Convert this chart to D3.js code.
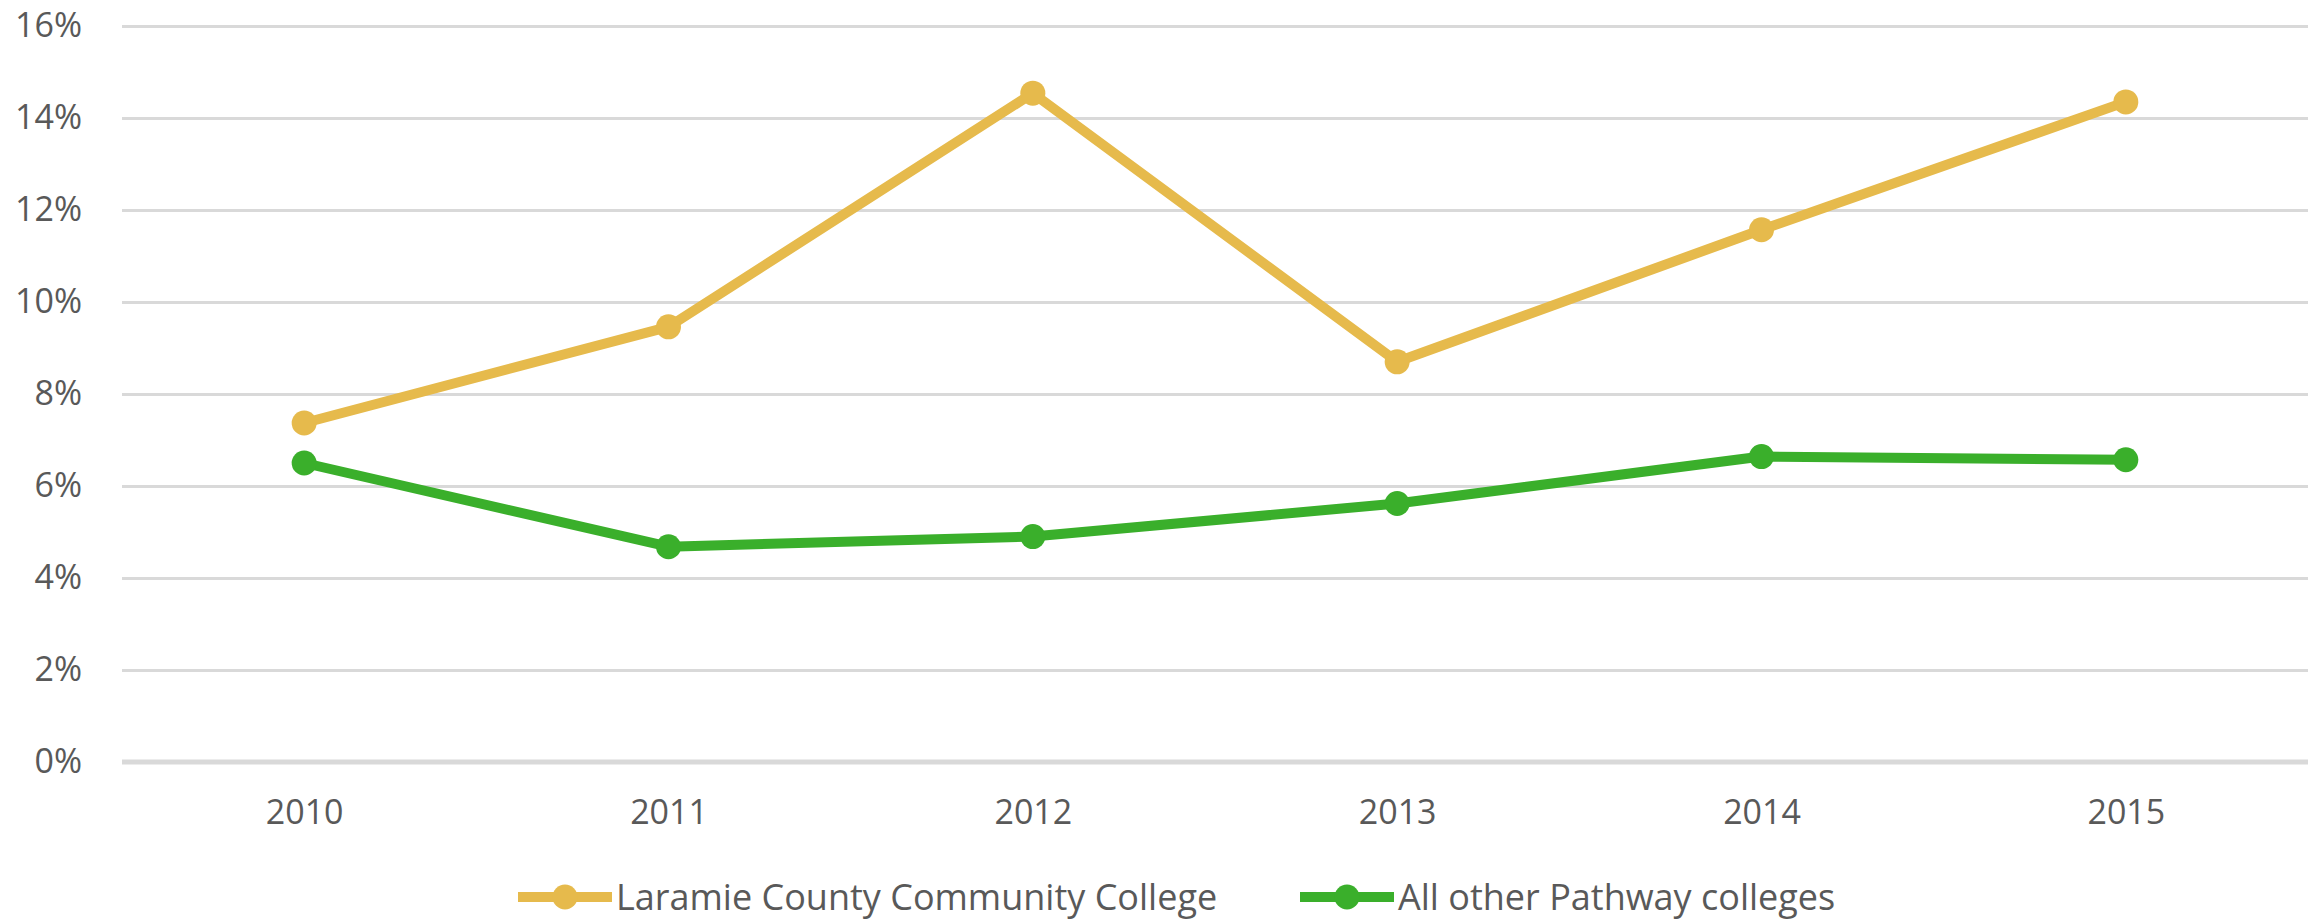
<!DOCTYPE html>
<html>
<head>
<meta charset="utf-8">
<script src="https://cdn.jsdelivr.net/npm/d3@7"></script>
<style>
    body { margin: 0; background: #fff; }
    text { font-family: "Open Sans", "Liberation Sans", sans-serif; fill: #595959; }
    .grid line { stroke: #d9d9d9; stroke-width: 3; }
</style>
</head>
<body>
<svg id="main-svg" width="2320" height="924"></svg>
<script>
(function() {

    // categories
    var years = ["2010", "2011", "2012", "2013", "2014", "2015"];

    // series values (share, 0..1)
    var laramie = [0.0737, 0.0946, 0.1454, 0.0870, 0.1157, 0.1435];
    var others = [0.0650, 0.0468, 0.0490, 0.0562, 0.0664, 0.0657];

    // tick values
    var yTicks = [0, 0.02, 0.04, 0.06, 0.08, 0.10, 0.12, 0.14, 0.16];

    var seriesNames = ["Laramie County Community College", "All other Pathway colleges"];
    var seriesColors = ["#e6ba4c", "#3aaf2b"];

    var series = [
        { name: seriesNames[0], color: seriesColors[0], values: laramie },
        { name: seriesNames[1], color: seriesColors[1], values: others }
    ];

    var left = 122, right = 2308, top = 26, bottom = 762;
    var fontSize = 34;

    var svg = d3.select("#main-svg");

    var x = d3.scalePoint()
        .domain(years)
        .range([left, right])
        .padding(0.5);

    var y = d3.scaleLinear()
        .domain([0, 0.16])
        .range([bottom, top]);

    // gridlines + y labels
    var gy = svg.append("g")
        .classed("grid", true)
        .attr("transform", "translate(" + left + ",0)")
        .call(d3.axisLeft(y)
            .tickValues(yTicks)
            .tickSize(-(right - left))
            .tickPadding(40)
            .tickFormat(d3.format(".0%")));
    gy.select(".domain").remove();
    gy.selectAll("text")
        .style("font-size", fontSize + "px")
        .attr("font-family", null);

    // base line a bit heavier
    svg.append("line")
        .attr("x1", left)
        .attr("x2", right)
        .attr("y1", y(0))
        .attr("y2", y(0))
        .attr("stroke", "#d9d9d9")
        .attr("stroke-width", 5);

    // x labels
    var gx = svg.append("g")
        .attr("transform", "translate(0," + bottom + ")")
        .call(d3.axisBottom(x).tickSize(0).tickPadding(38));
    gx.select(".domain").remove();
    gx.selectAll("text")
        .style("font-size", fontSize + "px")
        .attr("font-family", null);

    var line = d3.line()
        .x(function(d, i) { return x(years[i]); })
        .y(function(d) { return y(d); });

    series.forEach(function(s) {
        var g = svg.append("g").classed("series", true);

        g.append("path")
            .attr("d", line(s.values))
            .attr("fill", "none")
            .attr("stroke", s.color)
            .attr("stroke-width", 10)
            .attr("stroke-linejoin", "round");

        g.selectAll("circle")
            .data(s.values)
            .enter()
            .append("circle")
            .attr("cx", function(d, i) { return x(years[i]); })
            .attr("cy", function(d) { return y(d); })
            .attr("r", 12.5)
            .attr("fill", s.color);
    });

    // legend
    var legendY = 897;
    var legendX = [518, 1300];

    var legend = svg.selectAll(".legend")
        .data(series)
        .enter()
        .append("g")
        .classed("legend", true)
        .attr("transform", function(s, i) {
            return "translate(" + legendX[i] + "," + legendY + ")";
        });

    legend.append("line")
        .attr("x1", 0)
        .attr("x2", 94)
        .attr("stroke", function(s) { return s.color; })
        .attr("stroke-width", 10);

    legend.append("circle")
        .attr("cx", 47)
        .attr("r", 12.5)
        .attr("fill", function(s) { return s.color; });

    legend.append("text")
        .attr("x", 98)
        .attr("dy", "0.35em")
        .style("font-size", "36px")
        .text(function(s) { return s.name; });
})();
</script>
</body>
</html>
